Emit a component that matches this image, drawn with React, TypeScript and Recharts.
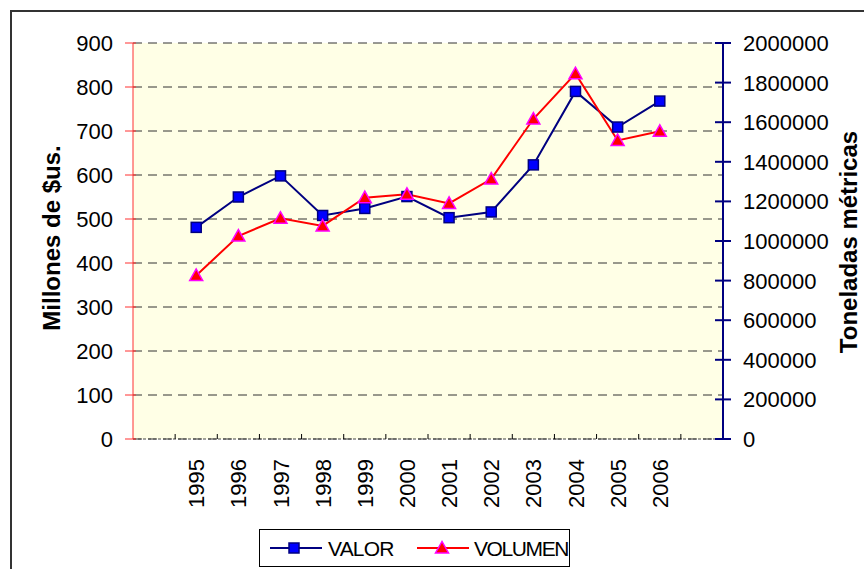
import React from "react";
import {
  ComposedChart,
  Line,
  XAxis,
  YAxis,
  CartesianGrid,
} from "recharts";

const years = ["1995", "1996", "1997", "1998", "1999", "2000", "2001", "2002", "2003", "2004", "2005", "2006"];
const valor = [481, 550, 598, 508, 524, 551, 503, 516, 623, 790, 709, 768];
const volumen = [826000, 1025000, 1115000, 1076000, 1219000, 1236000, 1190000, 1313000, 1616000, 1845000, 1508000, 1554000];
const leftTicks = [0, 100, 200, 300, 400, 500, 600, 700, 800, 900];
const rightTicks = [0, 200000, 400000, 600000, 800000, 1000000, 1200000, 1400000, 1600000, 1800000, 2000000];

// blank slot before 1995 and after 2006, like the original sheet
const data = [
  { year: "", valor: null, volumen: null },
  ...years.map((y, i) => ({ year: y, valor: valor[i], volumen: volumen[i] })),
  { year: " ", valor: null, volumen: null },
];

const W = 864;
const H = 569;
const PLOT_LEFT = 133;
const PLOT_RIGHT = 723;
const PLOT_TOP = 43;
const PLOT_BOTTOM = 439;
const BAND = (PLOT_RIGHT - PLOT_LEFT) / data.length;
const FONT = "'Liberation Sans', Arial, sans-serif";

function LeftTick(props: any) {
  const { y, payload } = props;
  return (
    <g>
      <line x1={PLOT_LEFT - 8} x2={PLOT_LEFT + 3} y1={y} y2={y} stroke="#ff3030" strokeWidth={1} />
      <text x={PLOT_LEFT - 20} y={y} dy={8} textAnchor="end" fontSize={22} fill="#000" fontFamily={FONT}>
        {payload.value}
      </text>
    </g>
  );
}

function RightTick(props: any) {
  const { y, payload } = props;
  return (
    <g>
      <line x1={PLOT_RIGHT - 8} x2={PLOT_RIGHT + 8} y1={y} y2={y} stroke="#000080" strokeWidth={2} />
      <text x={PLOT_RIGHT + 20} y={y} dy={8} textAnchor="start" fontSize={22} fill="#000" fontFamily={FONT}>
        {payload.value}
      </text>
    </g>
  );
}

function YearTick(props: any) {
  const { x, payload, index } = props;
  const bx = x - BAND / 2;
  return (
    <g>
      {index > 0 && (
        <line x1={bx} x2={bx} y1={PLOT_BOTTOM - 5} y2={PLOT_BOTTOM} stroke="#000" strokeWidth={1} />
      )}
      <text
        transform={`translate(${x + 8},459) rotate(-90)`}
        textAnchor="end"
        fontSize={22}
        fill="#000"
        fontFamily={FONT}
      >
        {payload.value}
      </text>
    </g>
  );
}

function SquareDot(props: any) {
  const { cx, cy, index } = props;
  if (cx == null || cy == null || props.value == null) return <g key={"s" + index} />;
  return (
    <rect key={"s" + index} x={cx - 5} y={cy - 5} width={10} height={10} fill="#0000ff" stroke="#000080" strokeWidth={1.5} />
  );
}

function TriangleDot(props: any) {
  const { cx, cy, index } = props;
  if (cx == null || cy == null || props.value == null) return <g key={"t" + index} />;
  return (
    <polygon
      key={"t" + index}
      points={`${cx},${cy - 6.5} ${cx - 6.5},${cy + 5} ${cx + 6.5},${cy + 5}`}
      fill="#ff0000"
      stroke="#ff00ff"
      strokeWidth={1.5}
    />
  );
}

function LeftTitle() {
  return (
    <text transform="translate(60,238) rotate(-90)" textAnchor="middle" fontSize={24} fontWeight="bold" fill="#000" fontFamily={FONT}>
      Millones de $us.
    </text>
  );
}

function RightTitle() {
  return (
    <text transform="translate(857,242) rotate(-90)" textAnchor="middle" fontSize={24} fontWeight="bold" fill="#000" fontFamily={FONT}>
      Toneladas métricas
    </text>
  );
}

export default function App() {
  return (
    <div style={{ position: "absolute", left: 0, top: 0, width: W, height: H, overflow: "hidden", background: "#fff" }}>
      <div
        style={{
          position: "absolute",
          left: 10,
          top: 10,
          width: 900,
          height: 600,
          border: "2px solid #333",
        }}
      />
      <div style={{ position: "absolute", left: 0, top: 0 }}>
        <ComposedChart width={W} height={H} data={data} margin={{ top: PLOT_TOP, right: 0, bottom: 0, left: 0 }}>
          <CartesianGrid
            yAxisId="left"
            fill="#ffffe6"
            fillOpacity={1}
            stroke="#333"
            strokeDasharray="9 6"
            vertical={false}
          />
          <XAxis
            dataKey="year"
            scale="band"
            height={H - PLOT_BOTTOM}
            interval={0}
            axisLine={{ stroke: "#444", strokeDasharray: "3 2" }}
            tickLine={false}
            tick={<YearTick />}
          />
          <YAxis
            yAxisId="left"
            orientation="left"
            width={PLOT_LEFT}
            domain={[0, 900]}
            ticks={leftTicks}
            interval={0}
            axisLine={{ stroke: "#ff3030", strokeWidth: 1 }}
            tickLine={false}
            tick={<LeftTick />}
            label={<LeftTitle />}
          />
          <YAxis
            yAxisId="right"
            orientation="right"
            width={W - PLOT_RIGHT}
            domain={[0, 2000000]}
            ticks={rightTicks}
            interval={0}
            axisLine={{ stroke: "#000080", strokeWidth: 2 }}
            tickLine={false}
            tick={<RightTick />}
            label={<RightTitle />}
          />
          <Line
            yAxisId="left"
            dataKey="valor"
            stroke="#000080"
            strokeWidth={2}
            dot={SquareDot}
            isAnimationActive={false}
          />
          <Line
            yAxisId="right"
            dataKey="volumen"
            stroke="#ff0000"
            strokeWidth={2}
            dot={TriangleDot}
            isAnimationActive={false}
          />
        </ComposedChart>
      </div>
      <div
        style={{
          position: "absolute",
          left: 259,
          top: 529,
          width: 309,
          height: 36,
          border: "1px solid #000",
          background: "#fff",
          fontFamily: FONT,
          fontSize: 21,
        }}
      >
        <svg width={309} height={36} style={{ position: "absolute", left: 0, top: 0 }}>
          <line x1={10} x2={62} y1={18} y2={18} stroke="#000080" strokeWidth={2} />
          <rect x={29} y={13} width={10} height={10} fill="#0000ff" stroke="#000080" strokeWidth={1.5} />
          <text x={68} y={26} fontSize={21} letterSpacing={-0.8} fontFamily={FONT} fill="#000">VALOR</text>
          <line x1={157} x2={209} y1={18} y2={18} stroke="#ff0000" strokeWidth={2} />
          <polygon points="182,11.5 175.5,23 188.5,23" fill="#ff0000" stroke="#ff00ff" strokeWidth={1.5} />
          <text x={214} y={26} fontSize={21} letterSpacing={-1.4} fontFamily={FONT} fill="#000">VOLUMEN</text>
        </svg>
      </div>
    </div>
  );
}
